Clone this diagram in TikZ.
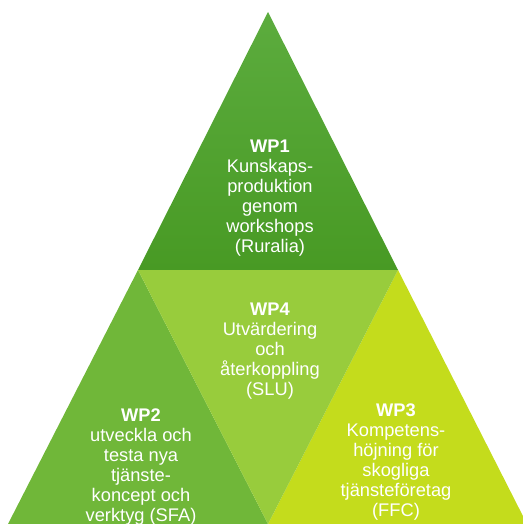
\documentclass[tikz,border=0pt]{standalone}
\usepackage{fontspec}
\setmainfont{Liberation Sans}
\definecolor{wponetop}{HTML}{5CAC3E}
\definecolor{wpone}{HTML}{489A24}
\definecolor{wptwo}{HTML}{70B739}
\definecolor{wpthree}{HTML}{C4DC1C}
\definecolor{wpfour}{HTML}{98CC3C}
\begin{document}
\begin{tikzpicture}[x=0.02cm,y=-0.02cm,
    wptext/.style={text=white,align=center,inner sep=0pt,font=\fontsize{10.4}{11.4}\selectfont}]
    \useasboundingbox (0,0) rectangle (523,524);
    % corners and midpoints of the big triangle
    \coordinate (apex) at (268,12);
    \coordinate (bl) at (8,524);
    \coordinate (br) at (527,524);
    \coordinate (ml) at (138,270);
    \coordinate (mr) at (398,270);
    \coordinate (mb) at (268,524);
    \shade[top color=wponetop,bottom color=wpone] (apex) -- (mr) -- (ml) -- cycle;
    \fill[wptwo] (ml) -- (mb) -- (bl) -- cycle;
    \fill[wpthree] (mr) -- (br) -- (mb) -- cycle;
    \fill[wpfour] (ml) -- (mr) -- (mb) -- cycle;
    \node[wptext] (wp1) at (270,198) {\textbf{WP1}\\Kunskaps-\\produktion\\genom\\workshops\\(Ruralia)};
    \node[wptext] (wp4) at (270,351) {\textbf{WP4}\\Utvärdering\\och\\återkoppling\\(SLU)};
    \node[wptext] (wp2) at (141,467) {\textbf{WP2}\\utveckla och\\testa nya\\tjänste-\\koncept och\\verktyg (SFA)};
    \node[wptext] (wp3) at (396,462) {\textbf{WP3}\\Kompetens-\\höjning för\\skogliga\\tjänsteföretag\\(FFC)};
\end{tikzpicture}
\end{document}
